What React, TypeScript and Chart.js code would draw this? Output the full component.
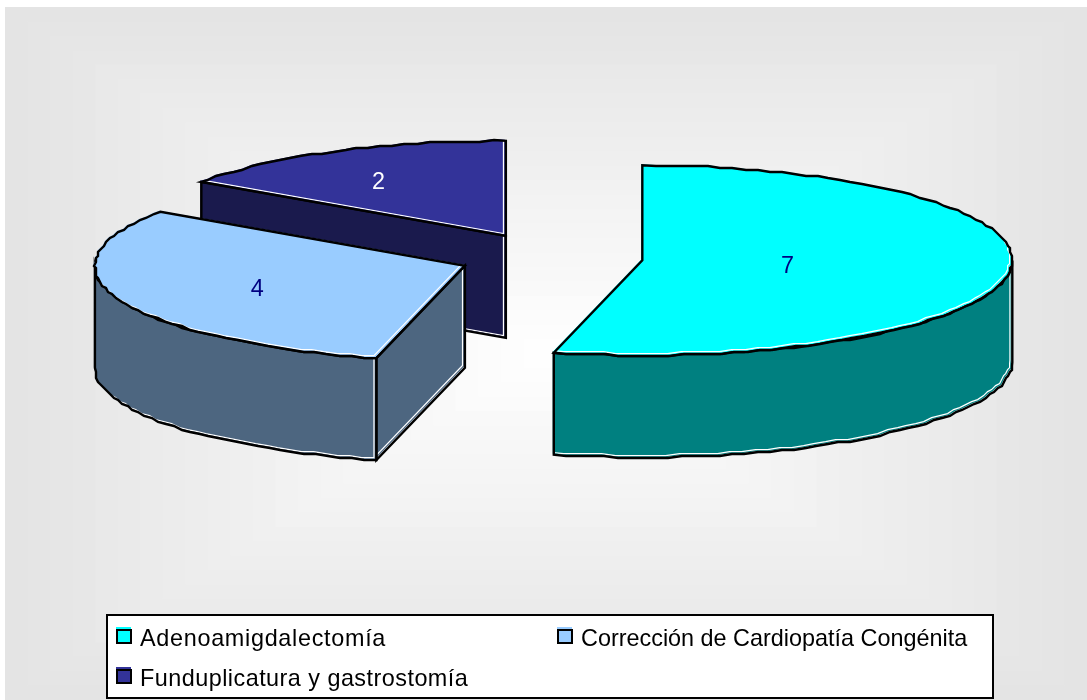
import React, { useEffect, useRef } from "react";
import { Chart, registerables, PieController, ArcElement } from "chart.js";

Chart.register(...registerables);

// Procedures and the number of cases of each
const categories = [
  "Adenoamigdalectomía",
  "Corrección de Cardiopatía Congénita",
  "Funduplicatura y gastrostomía",
];
const caseCounts = [7, 4, 2];

const topColors = ["#00FFFF", "#99CCFF", "#333399"];
const sideColors = ["#008080", "#4D6680", "#1A1A4D"];
const valueColors = ["#000080", "#000080", "#FFFFFF"];
const wedgeOffsets = [93, 91, 95];
const labelReachX = [0.395, 0.6, 0.74];
const labelReachY = [0.39, 0.65, 0.65];
const legendTracking = ["0.7px", "0px", "0.47px"];

const TILT = 0.257;
const DEPTH = 102;
const GRID = 2;

type Pt = [number, number];

function arcPoints(cx: number, cy: number, r: number, a0: number, a1: number): Pt[] {
  const span = a1 - a0;
  const steps = Math.max(2, Math.round((span * r) / 13));
  const pts: Pt[] = [];
  for (let i = 0; i <= steps; i++) {
    const a = a0 + (span * i) / steps;
    let x = cx + Math.cos(a) * r;
    let y = cy + Math.sin(a) * r * TILT;
    // Coarse rounding keeps the stepped look of the rim
    if (i > 0 && i < steps) {
      x = Math.round(x / GRID) * GRID;
      y = Math.round(y / GRID) * GRID;
    }
    pts.push([x, y]);
  }
  return pts;
}

function tracePoly(ctx: CanvasRenderingContext2D, pts: Pt[], dx = 0, dy = 0) {
  ctx.beginPath();
  pts.forEach(([x, y], i) => (i ? ctx.lineTo(x + dx, y + dy) : ctx.moveTo(x + dx, y + dy)));
  ctx.closePath();
}

function drawFace(ctx: CanvasRenderingContext2D, pts: Pt[], fill: string) {
  ctx.fillStyle = fill;
  tracePoly(ctx, pts, -1, -1);
  ctx.fill();
  ctx.save();
  tracePoly(ctx, pts);
  ctx.clip();
  ctx.strokeStyle = "#FFFFFF";
  ctx.lineWidth = 1.2;
  tracePoly(ctx, pts, -2.4, -2.4);
  ctx.stroke();
  ctx.restore();
  ctx.strokeStyle = "#000000";
  ctx.lineWidth = 2.4;
  ctx.lineJoin = "miter";
  tracePoly(ctx, pts);
  ctx.stroke();
}

// Arc drawn as an extruded, foreshortened wedge
class Arc3D extends ArcElement {
  static id = "arc3d";
  static defaults = ArcElement.defaults;

  center(): Pt {
    const { x, y, startAngle, endAngle } = this as any;
    const mid = (startAngle + endAngle) / 2;
    const off = (this as any).options.offset || 0;
    return [x + Math.cos(mid) * off, y + Math.sin(mid) * off * TILT];
  }

  draw(ctx: CanvasRenderingContext2D, side?: any) {
    const { startAngle, endAngle, outerRadius, options } = this as any;
    const r = outerRadius;
    const [cx, cy] = this.center();
    ctx.save();

    const rim = (a: number): Pt => [cx + Math.cos(a) * r, cy + Math.sin(a) * r * TILT];
    const cutFace = (a: number) => {
      const p = rim(a);
      drawFace(ctx, [[cx, cy], p, [p[0], p[1] + DEPTH], [cx, cy + DEPTH]], side);
    };
    if (Math.cos(startAngle) < -1e-6) cutFace(startAngle);
    if (Math.cos(endAngle) > 1e-6) cutFace(endAngle);

    const from = Math.max(startAngle, 0);
    const to = Math.min(endAngle, Math.PI);
    if (to > from) {
      const upper = arcPoints(cx, cy, r, from, to);
      const lower = upper.map(([x, y]) => [x, y + DEPTH] as Pt).reverse();
      drawFace(ctx, [...upper, ...lower], side);
    }

    const top = [[cx, cy] as Pt, ...arcPoints(cx, cy, r, startAngle, endAngle)];
    drawFace(ctx, top, options.backgroundColor);
    ctx.restore();
  }
}

// Wedges are painted from back to front so the nearer ones overlap
class Pie3DController extends PieController {
  static id = "pie3d";
  static defaults = { ...PieController.defaults, dataElementType: "arc3d" };
  static overrides = PieController.overrides;

  draw() {
    const ctx = (this as any).chart.ctx;
    const arcs = (this as any)._cachedMeta.data;
    for (let i = arcs.length - 1; i >= 0; i--) arcs[i].draw(ctx, sideColors[i]);
  }
}

Chart.register(Arc3D, Pie3DController);

// Square-ring gradient behind the plot, fading from grey at the border to white
const backdrop = {
  id: "backdrop",
  beforeDraw(chart: any) {
    const { ctx, width, height } = chart;
    const l = 5, t = 7, r = width, b = height;
    const mx = (l + r) / 2, my = (t + b) / 2;
    const bands = 24;
    ctx.save();
    for (let i = 0; i < bands; i++) {
      const f = i / bands;
      const v = Math.round(0xe4 + (0xff - 0xe4) * f);
      ctx.fillStyle = `rgb(${v},${v},${v})`;
      ctx.fillRect(l + (mx - l) * f, t + (my - t) * f, (r - l) * (1 - f), (b - t) * (1 - f));
    }
    ctx.restore();
  },
};

const valueLabels = {
  id: "valueLabels",
  afterDatasetsDraw(chart: any) {
    const { ctx } = chart;
    const arcs = chart.getDatasetMeta(0).data;
    ctx.save();
    ctx.font = '23.4px "Liberation Sans"';
    ctx.textAlign = "center";
    ctx.textBaseline = "middle";
    arcs.forEach((arc: any, i: number) => {
      const [cx, cy] = arc.center();
      const mid = (arc.startAngle + arc.endAngle) / 2;
      const r = arc.outerRadius;
      ctx.fillStyle = valueColors[i];
      ctx.fillText(
        String(chart.data.datasets[0].data[i]),
        cx + Math.cos(mid) * r * labelReachX[i],
        cy + Math.sin(mid) * r * TILT * labelReachY[i] + 1.5,
      );
    });
    ctx.restore();
  },
};

const boxedLegend = {
  id: "boxedLegend",
  afterDraw(chart: any) {
    const { ctx } = chart;
    const slots = [
      [117, 630],
      [558, 630],
      [117, 670],
    ];
    ctx.save();
    ctx.fillStyle = "#FFFFFF";
    ctx.fillRect(107, 615, 886, 83);
    ctx.strokeStyle = "#000000";
    ctx.lineWidth = 2;
    ctx.strokeRect(107, 615, 886, 83);
    ctx.font = '23.4px "Liberation Sans"';
    ctx.textBaseline = "alphabetic";
    chart.data.labels.forEach((text: string, i: number) => {
      const [x, y] = slots[i];
      ctx.fillStyle = topColors[i];
      ctx.fillRect(x - 1, y - 3, 15, 16);
      ctx.strokeStyle = "#000000";
      ctx.lineWidth = 2;
      ctx.strokeRect(x, y, 14, 13);
      ctx.fillStyle = "#000000";
      (ctx as any).letterSpacing = legendTracking[i];
      ctx.fillText(text, x + 23, y + 15.5);
    });
    ctx.restore();
  },
};

export default function App() {
  const ref = useRef<HTMLCanvasElement>(null);
  useEffect(() => {
    const chart = new Chart(ref.current!, {
      type: "pie3d" as any,
      data: {
        labels: categories,
        datasets: [
          {
            data: caseCounts,
            backgroundColor: topColors,
            borderWidth: 0,
            offset: wedgeOffsets,
            radius: 370,
          } as any,
        ],
      },
      options: {
        animation: false,
        responsive: false,
        maintainAspectRatio: false,
        events: [],
        layout: { padding: { left: 13, top: 0, right: 0, bottom: 185 } },
        plugins: { legend: { display: false }, tooltip: { enabled: false } },
      },
      plugins: [backdrop, valueLabels, boxedLegend],
    });
    return () => chart.destroy();
  }, []);
  return (
    <canvas
      ref={ref}
      width={1087}
      height={700}
      style={{ position: "absolute", left: 0, top: 0, display: "block" }}
    />
  );
}
